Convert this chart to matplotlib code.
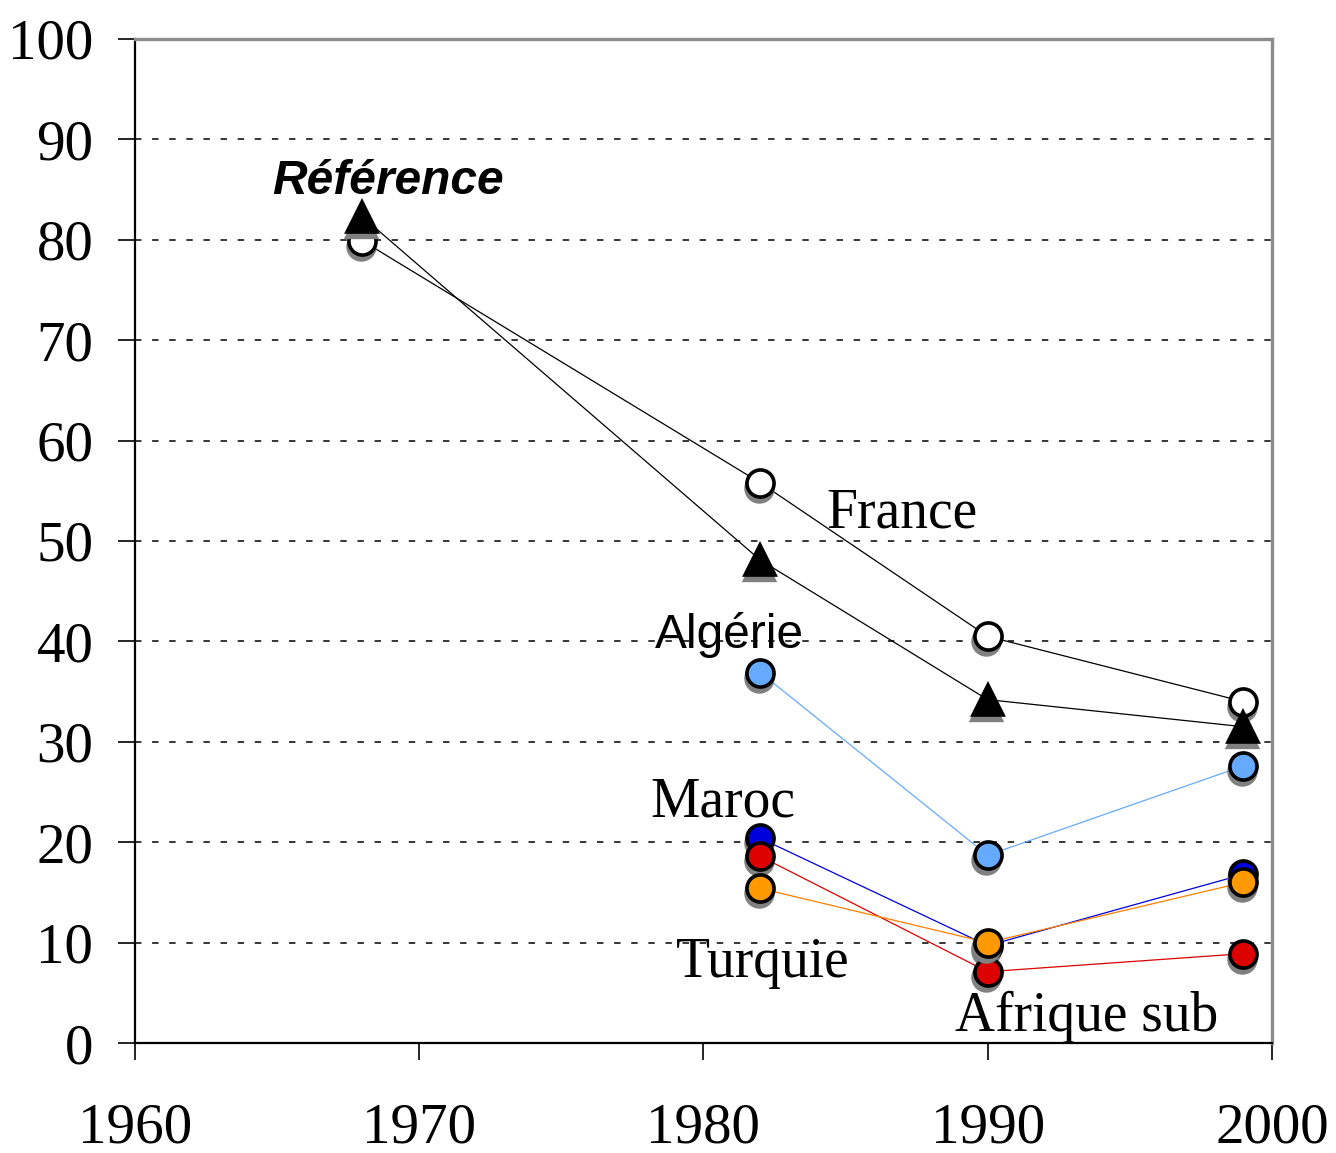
import matplotlib
matplotlib.use("Agg")
import matplotlib.pyplot as plt
import matplotlib.transforms as mtransforms

years_ref = [1968, 1982, 1990, 1999]
reference = [82.3, 48.1, 34.2, 31.5]
france = [79.9, 55.8, 40.5, 34.0]

years_imm = [1982, 1990, 1999]
algerie = [36.9, 18.7, 27.6]
maroc = [20.4, 9.7, 16.8]
afrique_sub = [18.6, 7.1, 8.9]
turquie = [15.4, 10.0, 16.0]

x_ticks = [1960, 1970, 1980, 1990, 2000]
y_ticks = list(range(0, 101, 10))

fig = plt.figure(figsize=(13.36, 11.53), dpi=100)
ax = fig.add_axes([0.101, 0.0954, 0.851, 0.8708])
ax.set_xlim(1960, 2000)
ax.set_ylim(0, 100)

serif = "Liberation Serif"
sans = "Liberation Sans"

for y in y_ticks[1:-1]:
    ax.axhline(y, color="black", lw=1.1, ls=(0, (4.2, 7.0)), zorder=1)

shadow = mtransforms.offset_copy(ax.transData, fig=fig, x=-1.5, y=-5, units="dots")

def series(xs, ys, face, line, marker="o", ms=19.5, z=3):
    ax.plot(xs, ys, color=line, lw=0.9, zorder=z)
    ax.plot(xs, ys, ls="none", marker=marker, ms=ms, mfc="#808080", mec="#808080",
            mew=2.4, transform=shadow, zorder=z + 0.1)
    ax.plot(xs, ys, ls="none", marker=marker, ms=ms, mfc=face, mec="black",
            mew=2.6, zorder=z + 0.2)

series(years_ref, france, "white", "black", z=3)
series(years_ref, reference, "black", "black", marker="^", ms=21, z=4)
series(years_imm, algerie, "#66AAFF", "#66AAFF", z=5)
series(years_imm, maroc, "#0000DD", "#0000DD", z=6)
series(years_imm, afrique_sub, "#DD0000", "#DD0000", z=7)
series(years_imm, turquie, "#FF9900", "#FF7F00", z=8)

ax.text(1968.9, 85.8, "Référence", fontsize=34.5, fontweight="bold", fontstyle="italic",
        family=sans, ha="center", va="center")
ax.text(1987.0, 52.7, "France", fontsize=40, family=serif, ha="center", va="center")
ax.text(1980.9, 40.6, "Algérie", fontsize=34.5, family=sans, ha="center", va="center")
ax.text(1980.7, 24.0, "Maroc", fontsize=40, family=serif, ha="center", va="center")
ax.text(1982.1, 8.0, "Turquie", fontsize=40, family=serif, ha="center", va="center")
ax.text(1993.5, 2.6, "Afrique sub", fontsize=40, family=serif, ha="center", va="center")

ax.set_xticks(x_ticks)
ax.set_yticks(y_ticks)
ax.set_xticklabels([str(v) for v in x_ticks], family=serif, fontsize=41)
ax.set_yticklabels([str(v) for v in y_ticks], family=serif, fontsize=41)
ax.tick_params(axis="both", direction="out", length=12, width=1.2, color="black")
ax.tick_params(axis="y", pad=18)
ax.tick_params(axis="x", pad=31)

for s in ["left", "bottom"]:
    ax.spines[s].set_color("black")
    ax.spines[s].set_linewidth(1.6)
for s in ["top", "right"]:
    ax.spines[s].set_color("#8c8c8c")
    ax.spines[s].set_linewidth(2.4)

fig.savefig("out.png", dpi=100)
